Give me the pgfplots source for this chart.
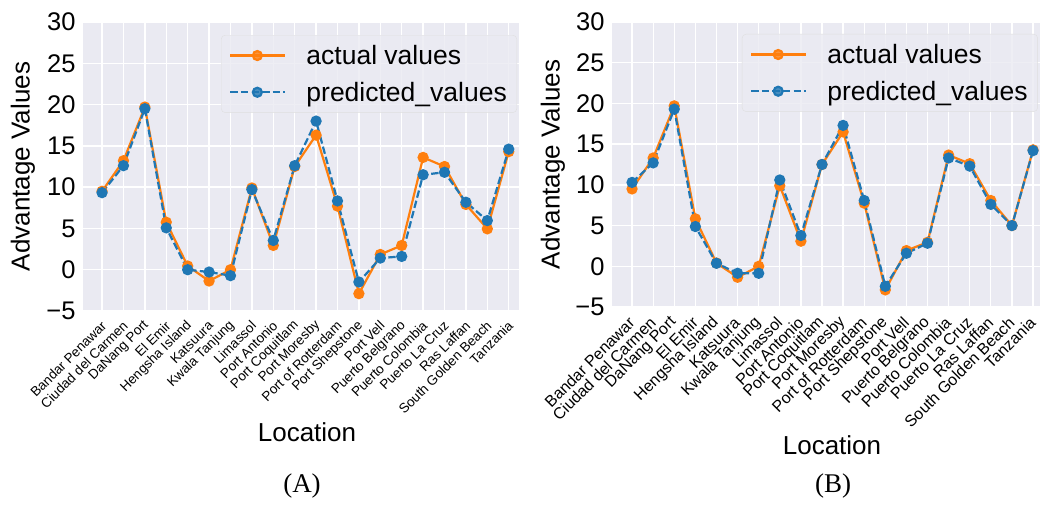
\documentclass[border=0pt]{standalone}
\usepackage{fontspec}
\setmainfont{Liberation Sans}
\newfontfamily\capfont{Liberation Serif}
\usepackage{pgfplots}
\pgfplotsset{compat=1.18}
\definecolor{bg}{HTML}{EAEAF2}
\definecolor{cor}{HTML}{FF7F0E}
\definecolor{cbl}{HTML}{1F77B4}

\pgfplotstableread{
idx act pred
0 9.5 9.33
1 13.2 12.6
2 19.7 19.5
3 5.75 5.07
4 0.45 0.0
5 -1.37 -0.28
6 0.0 -0.72
7 9.9 9.7
8 2.94 3.54
9 12.5 12.6
10 16.3 18.0
11 7.7 8.33
12 -2.9 -1.49
13 1.85 1.41
14 2.94 1.61
15 13.6 11.5
16 12.5 11.8
17 7.9 8.17
18 4.95 5.95
19 14.3 14.6
}\tabA

\pgfplotstableread{
idx act pred
0 9.5 10.3
1 13.3 12.7
2 19.7 19.3
3 5.83 4.88
4 0.4 0.37
5 -1.35 -0.86
6 0.0 -0.86
7 9.9 10.6
8 3.08 3.78
9 12.5 12.5
10 16.5 17.3
11 7.75 8.08
12 -2.9 -2.46
13 1.93 1.6
14 2.95 2.83
15 13.66 13.3
16 12.6 12.3
17 8.08 7.6
18 5.0 5.0
19 14.3 14.2
}\tabB

\pgfplotsset{
  sea/.style={
    scale only axis,
    axis background/.style={fill=bg},
    axis line style={draw=none},
    major tick length=0pt,
    grid=major,
    major grid style={white, line width=1.3pt},
    ymin=-5, ymax=30,
    ytick={-5,0,5,10,15,20,25,30},
    yticklabels={−5,0,5,10,15,20,25,30},
    xtick={0,...,19},
    xticklabels={Bandar Penawar,Ciudad del Carmen,DaNang Port,El Emir,Hengsha Island,Katsuura,Kwala Tanjung,Limassol,Port Antonio,Port Coquitlam,Port Moresby,Port of Rotterdam,Port Shepstone,Port Vell,Puerto Belgrano,Puerto Colombia,Puerto La Cruz,Ras Laffan,South Golden Beach,Tanzania},
    yticklabel style={font=\fontsize{25.5}{26}\selectfont, xshift=-4pt},
    ylabel={Advantage Values},
    xlabel={Location},
    legend cell align=left,
    legend image code/.code={\draw[mark repeat=2,mark phase=2,##1] plot coordinates {(0pt,0pt) (27pt,0pt) (55pt,0pt)};},
    legend style={font=\fontsize{26.5}{28}\selectfont, fill=bg, fill opacity=0.8, text opacity=1, draw=gray!25, rounded corners=4pt, inner xsep=8pt, inner ysep=8pt, row sep=12pt, column sep=18pt, anchor=north east},
    clip=false,
  },
  act/.style={cor, line width=2.2pt, mark=*, mark size=4.5pt, mark options={solid}},
  pred/.style={cbl, line width=2.2pt, dash pattern=on 7.4pt off 3.2pt, mark=*, mark size=4.5pt, mark options={solid}},
}

\begin{document}
\begin{tikzpicture}
\useasboundingbox (0pt,0pt) rectangle (1040pt,504pt);

\begin{axis}[sea,
  at={(83pt,193pt)}, anchor=south west,
  width=436pt, height=289pt,
  xmin=-0.89, xmax=19.48,
  xticklabel style={font=\fontsize{13.5}{14}\selectfont, rotate=45, anchor=east, xshift=-4pt, yshift=-10pt},
  every axis y label/.style={at={([xshift=-60pt]axis description cs:0,0.5)}, rotate=90, anchor=center, font=\fontsize{26}{27}\selectfont},
  every axis x label/.style={at={([xshift=6pt,yshift=-121pt]axis description cs:0.5,0)}, anchor=center, font=\fontsize{26}{27}\selectfont},
  legend style={at={(0.9954,0.955)}},
]
\addplot[act] table[x=idx,y=act] {\tabA};
\addlegendentry{actual values}
\addplot[pred] table[x=idx,y=pred] {\tabA};
\addlegendentry{predicted\_values}
\end{axis}

\begin{axis}[sea,
  at={(612pt,197pt)}, anchor=south west,
  width=428pt, height=285pt,
  xmin=-0.95, xmax=19.33,
  xticklabel style={font=\fontsize{16}{17}\selectfont, rotate=45, anchor=east, xshift=-6pt, yshift=-9pt},
  every axis y label/.style={at={([xshift=-59pt]axis description cs:0,0.5)}, rotate=90, anchor=center, font=\fontsize{26}{27}\selectfont},
  every axis x label/.style={at={([xshift=6pt,yshift=-138pt]axis description cs:0.5,0)}, anchor=center, font=\fontsize{26}{27}\selectfont},
  legend style={at={(0.995,0.958)}},
]
\addplot[act] table[x=idx,y=act] {\tabB};
\addlegendentry{actual values}
\addplot[pred] table[x=idx,y=pred] {\tabB};
\addlegendentry{predicted\_values}
\end{axis}

\node[font=\capfont\fontsize{27}{28}\selectfont] at (302pt,18pt) {(A)};
\node[font=\capfont\fontsize{27}{28}\selectfont] at (833pt,18pt) {(B)};
\end{tikzpicture}
\end{document}
